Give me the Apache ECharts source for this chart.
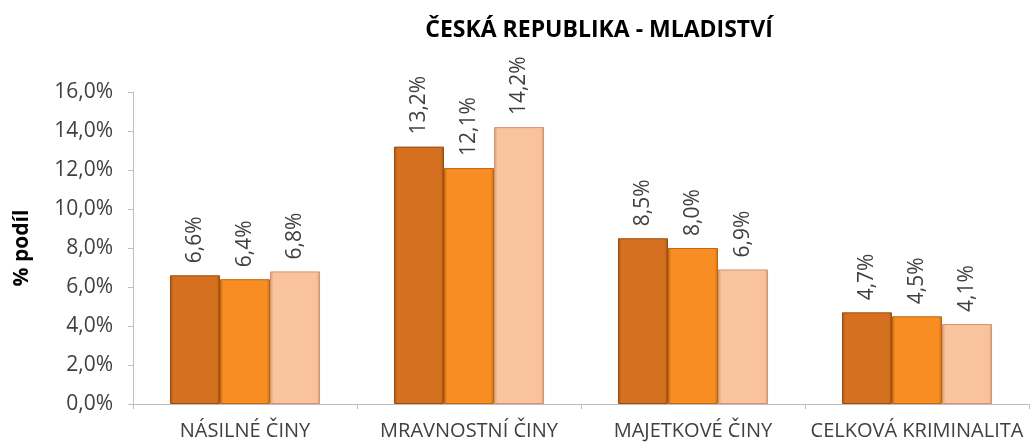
<!DOCTYPE html>
<html>
<head>
<meta charset="utf-8">
<script src="https://cdn.jsdelivr.net/npm/echarts@6/dist/echarts.min.js"></script>
<style>
  html, body { margin: 0; padding: 0; background: #fff; }
  #chart { width: 1030px; height: 444px; }
</style>
</head>
<body>
<div id="chart"></div>
<script>
  const categories = ['NÁSILNÉ ČINY', 'MRAVNOSTNÍ ČINY', 'MAJETKOVÉ ČINY', 'CELKOVÁ KRIMINALITA'];
  const series1 = [6.6, 13.2, 8.5, 4.7];
  const series2 = [6.4, 12.1, 8.0, 4.5];
  const series3 = [6.8, 14.2, 6.9, 4.1];
  const yTicks = { min: 0, max: 16, interval: 2 };

  const fmt = (v) => v.toFixed(1).replace('.', ',') + '%';

  // bevel-ish look: darker edges, flat middle
  const bevel = (edge, mid) =>
    new echarts.graphic.LinearGradient(0, 0, 1, 0, [
      { offset: 0, color: edge },
      { offset: 0.07, color: mid },
      { offset: 0.93, color: mid },
      { offset: 1, color: edge },
    ]);

  const labelStyle = {
    show: true,
    position: 'top',
    rotate: 90,
    align: 'left',
    verticalAlign: 'middle',
    distance: 12,
    color: '#404040',
    fontSize: 21,
    fontFamily: 'Open Sans',
    formatter: (p) => fmt(p.value),
  };

  const chart = echarts.init(document.getElementById('chart'));
  chart.setOption({
    animation: false,
    title: {
      text: 'ČESKÁ REPUBLIKA - MLADISTVÍ',
      left: 594,
      textAlign: 'center',
      top: 14,
      textStyle: { fontFamily: 'Open Sans', fontWeight: 'bold', fontSize: 23, color: '#000' },
    },
    grid: { left: 133, right: 1, top: 92, bottom: 40 },
    xAxis: {
      type: 'category',
      data: categories,
      axisLine: { lineStyle: { color: '#bfbfbf', width: 1 } },
      axisTick: { show: true, length: 5, lineStyle: { color: '#bfbfbf' } },
      axisLabel: { color: '#404040', fontSize: 20, fontFamily: 'Open Sans', margin: 17, interval: 0 },
    },
    yAxis: {
      type: 'value',
      min: yTicks.min,
      max: yTicks.max,
      interval: yTicks.interval,
      name: '% podíl',
      nameLocation: 'middle',
      nameRotate: 90,
      nameGap: 100,
      nameTextStyle: { fontFamily: 'Open Sans', fontWeight: 'bold', fontSize: 21, color: '#000' },
      axisLine: { show: true, lineStyle: { color: '#bfbfbf' } },
      axisTick: { show: true, length: 5, lineStyle: { color: '#bfbfbf' } },
      splitLine: { show: false },
      axisLabel: {
        color: '#404040',
        fontSize: 21,
        fontFamily: 'Open Sans',
        margin: 20,
        formatter: (v) => fmt(v),
      },
    },
    series: [
      {
        name: 'Řada 1',
        type: 'bar',
        data: series1,
        barGap: '0%',
        barCategoryGap: '33%',
        itemStyle: { color: bevel('#a85310', '#d4701f'), borderColor: '#9c4c0e', borderWidth: 1 },
        label: labelStyle,
      },
      {
        name: 'Řada 2',
        type: 'bar',
        data: series2,
        itemStyle: { color: bevel('#c86d15', '#f78d23'), borderColor: '#c0680f', borderWidth: 1 },
        label: labelStyle,
      },
      {
        name: 'Řada 3',
        type: 'bar',
        data: series3,
        itemStyle: { color: bevel('#d99a78', '#f9c3a0'), borderColor: '#d3936f', borderWidth: 1 },
        label: labelStyle,
      },
    ],
  });
</script>
</body>
</html>
